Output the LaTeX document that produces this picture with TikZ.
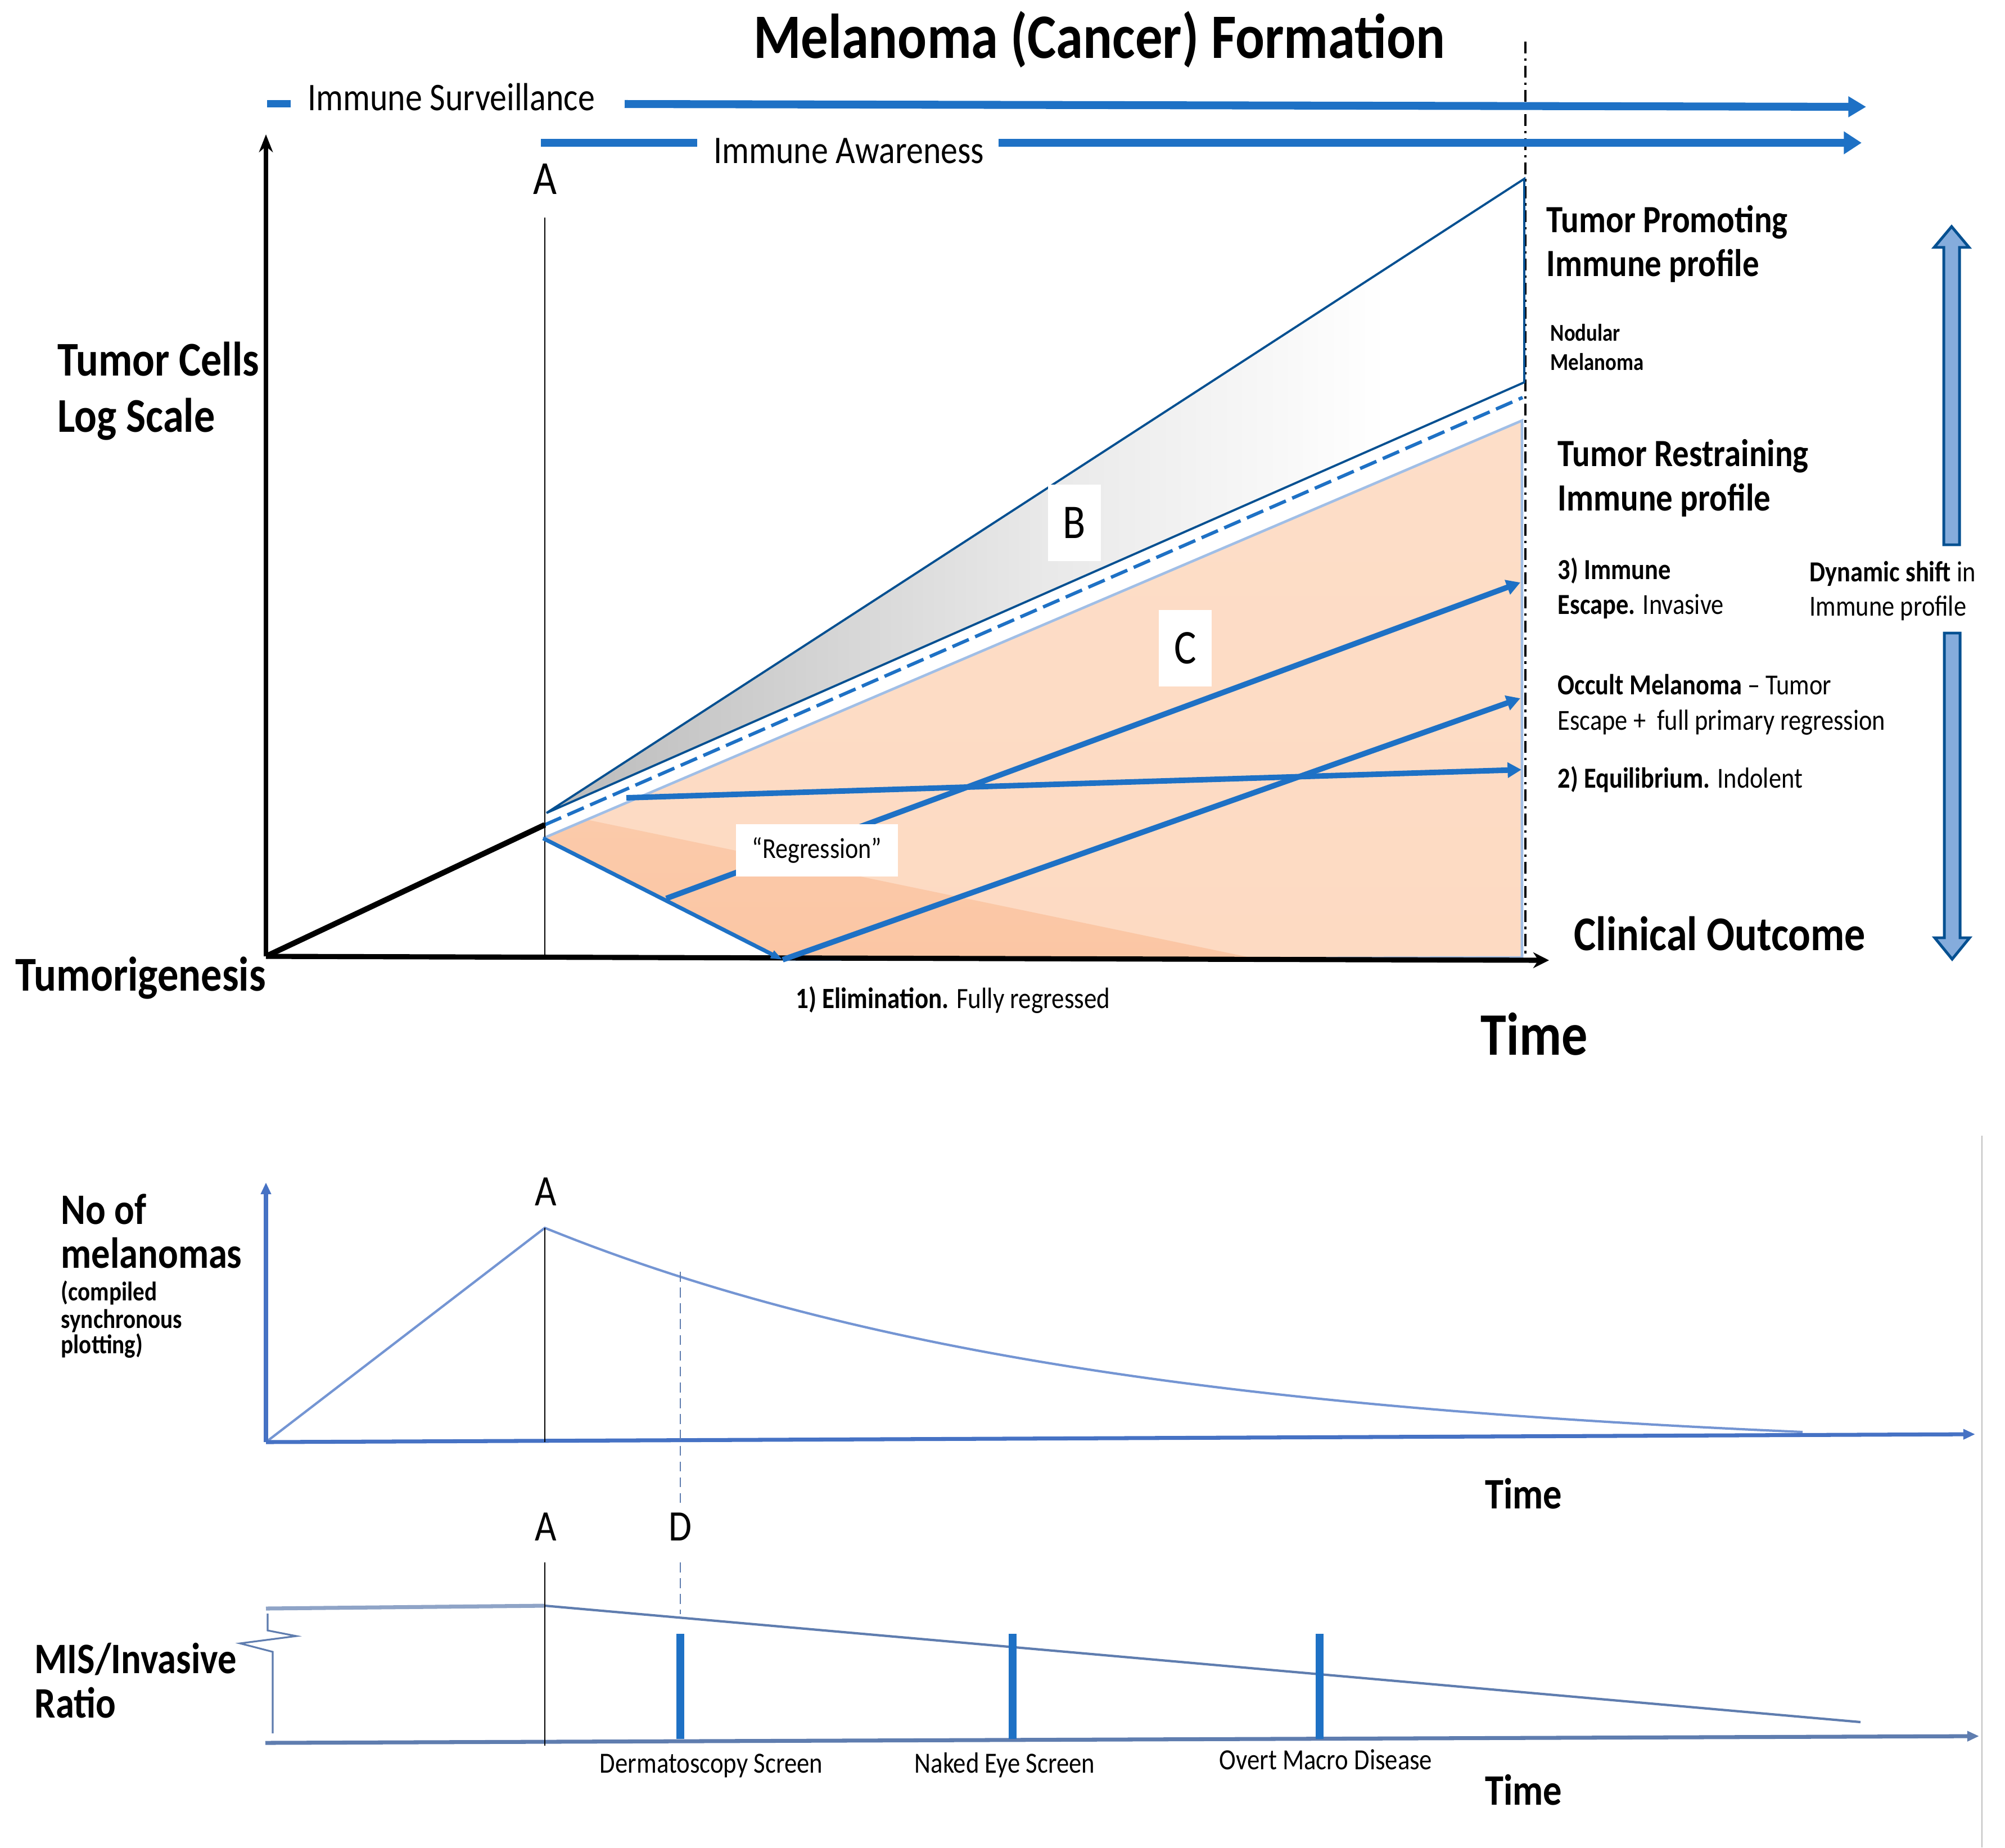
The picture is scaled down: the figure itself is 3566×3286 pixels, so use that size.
\documentclass[tikz,border=0pt]{standalone}
\usepackage{fontspec}
\setmainfont{Carlito}[FakeStretch=0.86]
\usetikzlibrary{arrows.meta}
\definecolor{arrowblue}{RGB}{30,113,197}
\definecolor{edgeblue}{RGB}{5,80,145}
\definecolor{paleblue}{RGB}{160,190,230}
\definecolor{peach}{RGB}{253,218,194}
\definecolor{deeppeach}{RGB}{251,198,164}
\definecolor{shiftfill}{RGB}{133,172,220}
\definecolor{plotblue}{RGB}{70,114,196}
\definecolor{ratioblue}{RGB}{95,125,175}
\newcommand{\fsz}[1]{\fontsize{#1pt}{#1pt}\selectfont}
\pgfdeclarehorizontalshading{greyfade}{100bp}{color(0bp)=(black!27); color(25bp)=(black!27); color(50bp)=(black!9); color(68bp)=(white); color(100bp)=(white)}

\begin{document}
\begin{tikzpicture}[x=0.01cm, y=-0.01cm,
    txt/.style={inner sep=0pt, anchor=base west},
    ctxt/.style={inner sep=0pt, anchor=base},
    letterbox/.style={fill=white, inner sep=0pt, minimum width=0.93cm, minimum height=1.36cm, font=\fsz{24.5}},
    growth/.style={arrowblue, line width=2.8pt, -{Triangle[length=7pt,width=7.5pt]}},
    immbar/.style={arrowblue, line width=4pt},
    plotaxis/.style={plotblue, line width=2pt, -{Triangle[length=6pt,width=5pt]}}
]
    \useasboundingbox (0,0) rectangle (3566,3286);
    %\draw[help lines] (0,0) grid[step=100] (3566,3286);

    % upper chart: key points
    \coordinate (O) at (473,1701);
    \coordinate (ytop) at (473,239);
    \coordinate (xend) at (2755,1708);
    \coordinate (Atop) at (969,387);
    \coordinate (Abase) at (969,1701);
    \coordinate (Avtx) at (969,1467);
    \coordinate (apex) at (972,1446);
    \coordinate (Bhi) at (2711,318);
    \coordinate (Blo) at (2711,680);
    \coordinate (dashS) at (969,1467);
    \coordinate (dashE) at (2708,707);
    \coordinate (paleS) at (966,1491);
    \coordinate (paleE) at (2707,748);
    \coordinate (paleB) at (2707,1703);
    \coordinate (reg) at (1392,1707);
    \coordinate (escS) at (1185,1598);
    \coordinate (escE) at (2704,1036);
    \coordinate (occE) at (2704,1242);
    \coordinate (eqS) at (1114,1419);
    \coordinate (eqE) at (2706,1369);
    \coordinate (clinTop) at (2713,74);
    \coordinate (clinBot) at (2713,1701);

    % regions B and C
    \shade[shading=greyfade] (apex) -- (Bhi) -- (Blo) -- cycle;
    \shade[top color=peach!90, bottom color=peach] (paleS) -- (paleE) -- (paleB) -- (reg) -- cycle;
    \shade[top color=deeppeach!80!peach, bottom color=deeppeach] (1044,1458) -- (2233,1705) -- (reg) -- (paleS) -- cycle;

    \draw[line width=0.9pt, dash pattern=on 6pt off 2.5pt on 1.2pt off 2.5pt] (clinTop) -- (clinBot);

    \draw[edgeblue, line width=1.1pt, line join=miter] (apex) -- (Bhi) -- (Blo) -- cycle;
    \draw[arrowblue, line width=1.7pt, dash pattern=on 9pt off 3.5pt] (dashS) -- (dashE);
    \draw[paleblue, line width=1.3pt] (paleS) -- (paleE) -- (paleB) -- (reg);

    % axes
    \draw[line width=2pt, -{Stealth[length=9pt,width=7pt]}] (O) -- (ytop);
    \draw[line width=2.6pt, -{Stealth[length=8pt,width=8pt]}] (O) -- (xend);
    \draw[line width=0.7pt] (Atop) -- (Abase);
    \draw[line width=2.8pt] (O) -- (Avtx);

    % outcome arrows
    \draw[arrowblue, line width=2pt, -{Triangle[length=6pt,width=4pt]}] (paleS) -- (reg);
    \draw[growth] (escS) -- (escE);
    \draw[growth] (reg) -- (occE);
    \draw[growth] (eqS) -- (eqE);

    \node[letterbox] (B) at (1911,930) {B};
    \node[letterbox] (C) at (2108,1153) {C};
    \node[fill=white, inner sep=0pt, minimum width=2.87cm, minimum height=0.93cm, font=\fsz{14.6}] (regr) at (1453,1512) {“Regression”};

    % immune bars
    \fill[arrowblue] (475,178) rectangle (517,191);
    \draw[immbar, -{Triangle[length=9pt,width=10pt]}] (1111,185) -- (3319,190);
    \draw[immbar] (962,254) -- (1240,254);
    \draw[immbar, -{Triangle[length=9pt,width=11pt]}] (1776,254) -- (3311,254);

    % dynamic shift arrow
    \draw[edgeblue, fill=shiftfill, line width=1.4pt]
        (3471,403) -- (3502,440) -- (3485,440) -- (3485,969) -- (3457,969) -- (3457,440) -- (3440,440) -- cycle;
    \draw[edgeblue, fill=shiftfill, line width=1.4pt]
        (3472,1706) -- (3503,1668) -- (3486,1668) -- (3486,1126) -- (3458,1126) -- (3458,1668) -- (3441,1668) -- cycle;

    % texts, upper chart
    \node[ctxt, font=\fsz{32}\bfseries] (title) at (1955,103) {Melanoma (Cancer) Formation};
    \node[txt, font=\fsz{19.8}] (surv) at (547,196) {Immune Surveillance};
    \node[txt, font=\fsz{19.8}] (aware) at (1269,290) {Immune Awareness};
    \node[ctxt, font=\fsz{24}] (Alab) at (969,345) {A};
    \node[txt, font=\fsz{24.5}\bfseries] (cells) at (102,668) {Tumor Cells};
    \node[txt, font=\fsz{24.5}\bfseries] (logsc) at (102,768) {Log Scale};
    \node[txt, font=\fsz{24.6}\bfseries] (tumgen) at (27,1762) {Tumorigenesis};
    \node[txt, font=\fsz{24.5}\bfseries] (clin) at (2799,1690) {Clinical Outcome};
    \node[txt, font=\fsz{30.5}\bfseries] (time) at (2633,1876) {Time};
    \node[txt, font=\fsz{19.5}\bfseries] (prom1) at (2750,413) {Tumor Promoting};
    \node[txt, font=\fsz{19.5}\bfseries] (prom2) at (2750,491) {Immune profile};
    \node[txt, font=\fsz{12.2}\bfseries] (nod1) at (2757,606) {Nodular};
    \node[txt, font=\fsz{12.2}\bfseries] (nod2) at (2757,658) {Melanoma};
    \node[txt, font=\fsz{19.5}\bfseries] (restr1) at (2770,829) {Tumor Restraining};
    \node[txt, font=\fsz{19.5}\bfseries] (restr2) at (2770,908) {Immune profile};
    \node[txt, font=\fsz{14.7}] (esc1) at (2770,1030) {\textbf{3) Immune}};
    \node[txt, font=\fsz{14.7}] (esc2) at (2770,1092) {\textbf{Escape.} Invasive};
    \node[txt, font=\fsz{14.7}] (dyn1) at (3218,1034) {\textbf{Dynamic shift} in};
    \node[txt, font=\fsz{14.7}] (dyn2) at (3218,1095) {Immune profile};
    \node[txt, font=\fsz{14.7}] (occ1) at (2770,1235) {\textbf{Occult Melanoma} – Tumor};
    \node[txt, font=\fsz{14.7}] (occ2) at (2770,1298) {Escape +\ \ full primary regression};
    \node[txt, font=\fsz{14.7}] (equi) at (2770,1401) {\textbf{2) Equilibrium.} Indolent};
    \node[txt, font=\fsz{14.9}] (elim) at (1415,1793) {\textbf{1) Elimination.} Fully regressed};

    % middle chart: number of melanomas
    \coordinate (mO) at (473,2565);
    \coordinate (mytop) at (473,2103);
    \coordinate (mxend) at (3513,2551);
    \coordinate (mpeak) at (969,2184);
    \coordinate (mAbase) at (969,2565);
    \draw[plotblue!75, line width=1.2pt] (mO) -- (mpeak)
        -- plot[domain=969:3206, samples=80] (\x, {2184+363*(1-exp(-(\x-969)/1000))/0.8932});
    \draw[plotaxis] (mO) -- (mytop);
    \draw[plotaxis] (mO) -- (mxend);
    \draw[line width=0.7pt] (mpeak) -- (mAbase);
    \draw[ratioblue, line width=0.7pt, dash pattern=on 5pt off 3pt] (1210,2262) -- (1210,2683);
    \draw[ratioblue, line width=0.7pt, dash pattern=on 5pt off 3pt] (1210,2779) -- (1210,2871);

    \node[ctxt, font=\fsz{22}] (mA) at (971,2144) {A};
    \node[txt, font=\fsz{22}\bfseries] (num1) at (108,2177) {No of};
    \node[txt, font=\fsz{22}\bfseries] (num2) at (108,2255) {melanomas};
    \node[txt, font=\fsz{13.6}\bfseries] (comp1) at (108,2313) {(compiled};
    \node[txt, font=\fsz{13.6}\bfseries] (comp2) at (108,2362) {synchronous};
    \node[txt, font=\fsz{13.6}\bfseries] (comp3) at (108,2407) {plotting)};
    \node[ctxt, font=\fsz{22}\bfseries] (mtime) at (2710,2683) {Time};

    % lower chart: MIS/invasive ratio
    \coordinate (rL) at (473,2861);
    \coordinate (rA) at (969,2856);
    \coordinate (rE) at (3309,3063);
    \coordinate (rO) at (472,3100);
    \coordinate (rxend) at (3520,3088);
    \draw[ratioblue!70, line width=2pt] (rL) -- (rA);
    \draw[ratioblue, line width=1.2pt] (rA) -- (rE);
    \draw[ratioblue, line width=0.9pt] (476,2870) -- (476,2900) -- (527,2910) -- (427,2923) -- (485,2938) -- (485,3083);
    \draw[plotaxis, ratioblue] (rO) -- (rxend);
    \draw[line width=0.6pt] (969,2779) -- (969,3105);
    \foreach \bx in {1210,1801,2347}
        \draw[arrowblue, line width=4pt] (\bx,2906) -- (\bx,3093);

    \node[ctxt, font=\fsz{22}] (rAlab) at (971,2740) {A};
    \node[ctxt, font=\fsz{22}] (rDlab) at (1210,2740) {D};
    \node[txt, font=\fsz{22}\bfseries] (mis1) at (61,2976) {MIS/Invasive};
    \node[txt, font=\fsz{22}\bfseries] (mis2) at (61,3055) {Ratio};
    \node[ctxt, font=\fsz{14.8}] (derm) at (1265,3153) {Dermatoscopy Screen};
    \node[ctxt, font=\fsz{14.8}] (naked) at (1787,3153) {Naked Eye Screen};
    \node[ctxt, font=\fsz{14.8}] (overt) at (2358,3147) {Overt Macro Disease};
    \node[ctxt, font=\fsz{22}\bfseries] (rtime) at (2710,3210) {Time};

    \draw[black!25, line width=0.5pt] (3525,2020) -- (3525,3286);
\end{tikzpicture}
\end{document}
